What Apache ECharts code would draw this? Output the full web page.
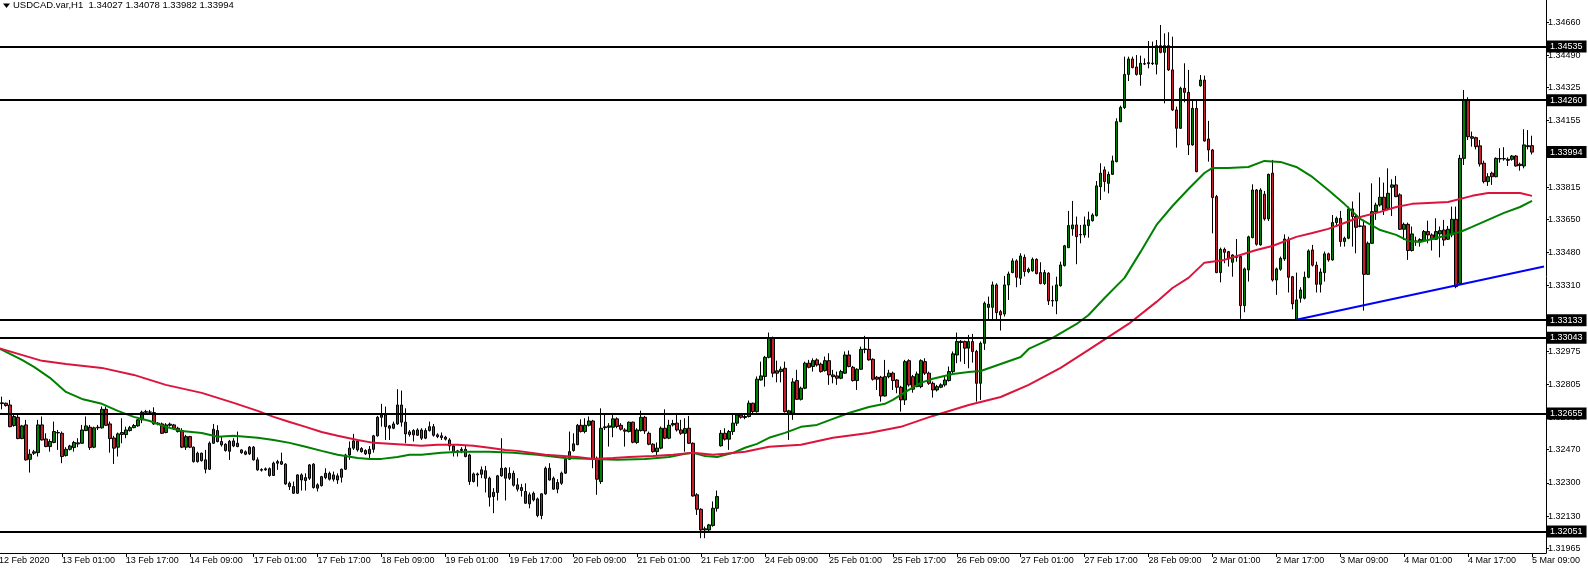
<!DOCTYPE html>
<html>
<head>
<meta charset="utf-8">
<script src="https://cdn.jsdelivr.net/npm/echarts@6/dist/echarts.min.js"></script>
<style>
html,body{margin:0;padding:0;background:#fff;}
#chart{width:1588px;height:570px;}
</style>
</head>
<body>
<div id="chart"></div>
<script>
// Symbol header
const symbolName = 'USDCAD.var,H1';

// Time-axis labels, one every 16 hourly bars, starting at bar 0 (12 Feb 09:00)
const labelStep = 16;
const timeLabels = ['12 Feb 2020','13 Feb 01:00','13 Feb 17:00','14 Feb 09:00','17 Feb 01:00','17 Feb 17:00',
  '18 Feb 09:00','19 Feb 01:00','19 Feb 17:00','20 Feb 09:00','21 Feb 01:00','21 Feb 17:00','24 Feb 09:00',
  '25 Feb 01:00','25 Feb 17:00','26 Feb 09:00','27 Feb 01:00','27 Feb 17:00','28 Feb 09:00','2 Mar 01:00',
  '2 Mar 17:00','3 Mar 09:00','4 Mar 01:00','4 Mar 17:00','5 Mar 09:00'];

// Price-axis tick labels
const priceTicks = [1.31965,1.32130,1.32300,1.32470,1.32635,1.32805,1.32975,1.33310,1.33480,1.33650,1.33815,1.34155,1.34325,1.34490,1.34660];

// Horizontal levels and last price
const levels = [1.34535,1.34260,1.33133,1.33043,1.32655,1.32051];
const lastPrice = 1.33994;

// Hourly bars [open, close, low, high], from 12 Feb 10:00 (bar 1) to 5 Mar 09:00 (bar 384)
const ohlc = [
[1.32706,1.32710,1.32677,1.32742],[1.32708,1.32696,1.32691,1.32711],[1.32699,1.32588,1.32585,1.32725],[1.32594,1.32640,1.32588,1.32648],
[1.32636,1.32527,1.32524,1.32657],[1.32527,1.32592,1.32524,1.32597],[1.32597,1.32418,1.32414,1.32623],[1.32421,1.32447,1.32353,1.32472],
[1.32452,1.32459,1.32443,1.32469],[1.32455,1.32597,1.32435,1.32623],[1.32597,1.32520,1.32517,1.32640],[1.32525,1.32486,1.32483,1.32554],
[1.32486,1.32512,1.32460,1.32524],[1.32507,1.32563,1.32503,1.32614],[1.32558,1.32556,1.32469,1.32571],[1.32554,1.32435,1.32401,1.32563],
[1.32440,1.32472,1.32435,1.32483],[1.32472,1.32489,1.32466,1.32495],[1.32481,1.32507,1.32460,1.32515],[1.32500,1.32505,1.32483,1.32529],
[1.32503,1.32571,1.32500,1.32597],[1.32568,1.32592,1.32565,1.32640],[1.32585,1.32481,1.32469,1.32597],[1.32483,1.32582,1.32478,1.32588],
[1.32582,1.32585,1.32571,1.32597],[1.32582,1.32677,1.32578,1.32691],[1.32677,1.32595,1.32592,1.32691],[1.32602,1.32527,1.32455,1.32614],
[1.32530,1.32478,1.32397,1.32541],[1.32483,1.32551,1.32435,1.32558],[1.32548,1.32558,1.32503,1.32631],[1.32548,1.32571,1.32529,1.32588],
[1.32568,1.32583,1.32563,1.32592],[1.32583,1.32594,1.32580,1.32602],[1.32592,1.32623,1.32588,1.32626],[1.32623,1.32662,1.32606,1.32670],
[1.32662,1.32665,1.32648,1.32674],[1.32663,1.32662,1.32653,1.32674],[1.32660,1.32602,1.32597,1.32687],[1.32602,1.32606,1.32595,1.32611],
[1.32602,1.32554,1.32551,1.32609],[1.32558,1.32597,1.32554,1.32606],[1.32595,1.32601,1.32588,1.32609],[1.32597,1.32580,1.32571,1.32602],
[1.32580,1.32563,1.32558,1.32588],[1.32568,1.32483,1.32478,1.32580],[1.32483,1.32537,1.32469,1.32546],[1.32537,1.32483,1.32478,1.32541],
[1.32483,1.32409,1.32404,1.32486],[1.32409,1.32452,1.32404,1.32460],[1.32452,1.32414,1.32409,1.32455],[1.32418,1.32370,1.32349,1.32469],
[1.32370,1.32503,1.32367,1.32512],[1.32503,1.32575,1.32500,1.32602],[1.32568,1.32512,1.32507,1.32595],[1.32512,1.32495,1.32486,1.32537],
[1.32498,1.32466,1.32460,1.32503],[1.32462,1.32513,1.32418,1.32520],[1.32515,1.32489,1.32483,1.32529],[1.32486,1.32503,1.32483,1.32563],
[1.32469,1.32455,1.32449,1.32472],[1.32459,1.32447,1.32442,1.32466],[1.32449,1.32483,1.32443,1.32489],[1.32483,1.32418,1.32414,1.32489],
[1.32418,1.32367,1.32362,1.32431],[1.32368,1.32365,1.32358,1.32375],[1.32367,1.32372,1.32362,1.32379],[1.32373,1.32338,1.32332,1.32379],
[1.32338,1.32401,1.32336,1.32409],[1.32401,1.32409,1.32367,1.32418],[1.32409,1.32396,1.32392,1.32455],[1.32396,1.32295,1.32290,1.32401],
[1.32298,1.32281,1.32264,1.32307],[1.32281,1.32247,1.32244,1.32307],[1.32247,1.32341,1.32244,1.32344],[1.32341,1.32315,1.32261,1.32349],
[1.32327,1.32312,1.32261,1.32349],[1.32324,1.32392,1.32315,1.32397],[1.32396,1.32276,1.32271,1.32401],[1.32273,1.32290,1.32256,1.32298],
[1.32286,1.32332,1.32281,1.32336],[1.32327,1.32349,1.32319,1.32375],[1.32349,1.32319,1.32312,1.32358],[1.32319,1.32341,1.32307,1.32358],
[1.32315,1.32336,1.32295,1.32349],[1.32329,1.32370,1.32302,1.32373],[1.32370,1.32443,1.32367,1.32449],[1.32443,1.32478,1.32418,1.32512],
[1.32478,1.32515,1.32469,1.32551],[1.32513,1.32469,1.32460,1.32520],[1.32476,1.32460,1.32455,1.32483],[1.32466,1.32449,1.32443,1.32472],
[1.32449,1.32472,1.32421,1.32489],[1.32472,1.32541,1.32455,1.32546],[1.32541,1.32636,1.32537,1.32643],[1.32636,1.32648,1.32588,1.32705],
[1.32648,1.32588,1.32520,1.32691],[1.32592,1.32580,1.32520,1.32597],[1.32580,1.32602,1.32575,1.32614],[1.32602,1.32699,1.32597,1.32780],
[1.32699,1.32611,1.32588,1.32773],[1.32611,1.32551,1.32503,1.32682],[1.32561,1.32548,1.32537,1.32571],[1.32546,1.32568,1.32512,1.32575],
[1.32544,1.32571,1.32541,1.32580],[1.32571,1.32529,1.32520,1.32580],[1.32529,1.32568,1.32524,1.32580],[1.32568,1.32588,1.32563,1.32614],
[1.32588,1.32544,1.32537,1.32602],[1.32546,1.32537,1.32529,1.32554],[1.32541,1.32532,1.32520,1.32558],[1.32534,1.32524,1.32517,1.32541],
[1.32520,1.32489,1.32466,1.32529],[1.32489,1.32460,1.32435,1.32495],[1.32460,1.32464,1.32435,1.32469],[1.32466,1.32472,1.32452,1.32483],
[1.32472,1.32435,1.32431,1.32489],[1.32443,1.32307,1.32290,1.32449],[1.32307,1.32346,1.32302,1.32353],[1.32346,1.32341,1.32281,1.32353],
[1.32344,1.32367,1.32324,1.32384],[1.32362,1.32324,1.32251,1.32387],[1.32324,1.32227,1.32179,1.32332],[1.32230,1.32252,1.32145,1.32273],
[1.32251,1.32336,1.32210,1.32341],[1.32336,1.32375,1.32332,1.32529],[1.32375,1.32324,1.32210,1.32380],[1.32324,1.32349,1.32315,1.32380],
[1.32349,1.32288,1.32281,1.32363],[1.32290,1.32268,1.32256,1.32324],[1.32276,1.32261,1.32230,1.32295],[1.32256,1.32196,1.32193,1.32298],
[1.32193,1.32239,1.32170,1.32251],[1.32213,1.32247,1.32205,1.32256],[1.32218,1.32133,1.32124,1.32225],[1.32133,1.32244,1.32114,1.32247],
[1.32244,1.32375,1.32239,1.32384],[1.32375,1.32315,1.32312,1.32401],[1.32324,1.32268,1.32264,1.32333],[1.32268,1.32302,1.32247,1.32319],
[1.32298,1.32350,1.32290,1.32358],[1.32350,1.32421,1.32346,1.32435],[1.32421,1.32460,1.32418,1.32563],[1.32466,1.32500,1.32460,1.32554],
[1.32496,1.32595,1.32493,1.32602],[1.32595,1.32563,1.32558,1.32626],[1.32563,1.32595,1.32554,1.32631],[1.32595,1.32617,1.32589,1.32640],
[1.32617,1.32421,1.32375,1.32623],[1.32426,1.32319,1.32239,1.32435],[1.32307,1.32580,1.32295,1.32682],[1.32583,1.32587,1.32571,1.32648],
[1.32585,1.32592,1.32486,1.32606],[1.32585,1.32628,1.32534,1.32648],[1.32628,1.32589,1.32580,1.32636],[1.32595,1.32575,1.32568,1.32606],
[1.32571,1.32565,1.32486,1.32580],[1.32563,1.32611,1.32558,1.32614],[1.32611,1.32508,1.32503,1.32614],[1.32507,1.32571,1.32500,1.32580],
[1.32568,1.32636,1.32563,1.32670],[1.32636,1.32566,1.32551,1.32643],[1.32554,1.32498,1.32493,1.32563],[1.32498,1.32460,1.32455,1.32503],
[1.32460,1.32478,1.32438,1.32507],[1.32478,1.32580,1.32472,1.32589],[1.32580,1.32529,1.32524,1.32677],[1.32529,1.32595,1.32524,1.32623],
[1.32597,1.32604,1.32589,1.32623],[1.32606,1.32571,1.32563,1.32648],[1.32571,1.32554,1.32546,1.32623],[1.32554,1.32578,1.32460,1.32631],
[1.32580,1.32503,1.32500,1.32643],[1.32503,1.32233,1.32230,1.32507],[1.32239,1.32165,1.32136,1.32247],[1.32165,1.32059,1.32017,1.32170],
[1.32059,1.32065,1.32017,1.32076],[1.32059,1.32085,1.32051,1.32090],[1.32082,1.32170,1.32076,1.32205],[1.32170,1.32230,1.32153,1.32261],
[1.32490,1.32554,1.32486,1.32571],[1.32554,1.32524,1.32517,1.32580],[1.32524,1.32563,1.32469,1.32571],[1.32563,1.32606,1.32546,1.32657],
[1.32606,1.32648,1.32592,1.32657],[1.32648,1.32636,1.32629,1.32653],[1.32635,1.32640,1.32626,1.32648],[1.32640,1.32708,1.32635,1.32722],
[1.32708,1.32665,1.32657,1.32711],[1.32665,1.32831,1.32660,1.32845],[1.32827,1.32848,1.32824,1.32921],[1.32845,1.32943,1.32793,1.32950],
[1.32943,1.33041,1.32938,1.33070],[1.33041,1.32862,1.32841,1.33049],[1.32874,1.32862,1.32815,1.32926],[1.32870,1.32882,1.32815,1.32896],
[1.32887,1.32665,1.32660,1.32921],[1.32657,1.32669,1.32520,1.32674],[1.32657,1.32817,1.32623,1.32836],[1.32824,1.32728,1.32725,1.32879],
[1.32728,1.32785,1.32722,1.32793],[1.32785,1.32913,1.32780,1.32921],[1.32913,1.32892,1.32887,1.32930],[1.32896,1.32926,1.32870,1.32938],
[1.32930,1.32904,1.32896,1.32938],[1.32908,1.32870,1.32865,1.32916],[1.32875,1.32926,1.32870,1.32947],[1.32926,1.32853,1.32802,1.32964],
[1.32853,1.32844,1.32810,1.32879],[1.32848,1.32836,1.32802,1.32870],[1.32836,1.32870,1.32831,1.32879],[1.32862,1.32955,1.32858,1.32973],
[1.32955,1.32896,1.32892,1.32978],[1.32892,1.32824,1.32819,1.32899],[1.32824,1.32882,1.32776,1.32887],[1.32882,1.32984,1.32879,1.32998],
[1.32983,1.32986,1.32964,1.33053],[1.32984,1.32930,1.32926,1.33041],[1.32933,1.32831,1.32824,1.32938],[1.32841,1.32831,1.32776,1.32848],
[1.32841,1.32745,1.32716,1.32848],[1.32745,1.32844,1.32742,1.32930],[1.32844,1.32862,1.32836,1.32879],[1.32862,1.32824,1.32776,1.32870],
[1.32827,1.32790,1.32759,1.32831],[1.32790,1.32725,1.32665,1.32797],[1.32725,1.32921,1.32699,1.32930],[1.32926,1.32802,1.32793,1.32933],
[1.32844,1.32780,1.32762,1.32853],[1.32793,1.32858,1.32790,1.32870],[1.32793,1.32926,1.32785,1.32933],[1.32921,1.32862,1.32853,1.32938],
[1.32862,1.32810,1.32802,1.32870],[1.32810,1.32776,1.32737,1.32819],[1.32776,1.32793,1.32768,1.32802],[1.32790,1.32802,1.32785,1.32810],
[1.32802,1.32827,1.32793,1.32848],[1.32824,1.32870,1.32819,1.32896],[1.32870,1.32961,1.32862,1.32973],[1.32955,1.33024,1.32913,1.33070],
[1.33019,1.33025,1.32921,1.33032],[1.33024,1.32990,1.32909,1.33029],[1.32990,1.33024,1.32887,1.33058],[1.33024,1.32973,1.32916,1.33063],
[1.32973,1.32810,1.32716,1.32981],[1.32810,1.33015,1.32725,1.33024],[1.33015,1.33220,1.32981,1.33229],[1.33199,1.33215,1.33138,1.33254],
[1.33199,1.33314,1.33138,1.33331],[1.33314,1.33172,1.33135,1.33322],[1.33177,1.33160,1.33080,1.33186],[1.33165,1.33314,1.33152,1.33360],
[1.33314,1.33370,1.33237,1.33382],[1.33377,1.33437,1.33374,1.33450],[1.33437,1.33353,1.33302,1.33445],[1.33348,1.33462,1.33314,1.33476],
[1.33455,1.33382,1.33357,1.33470],[1.33382,1.33394,1.33374,1.33403],[1.33386,1.33445,1.33382,1.33454],[1.33445,1.33372,1.33368,1.33450],
[1.33377,1.33321,1.33317,1.33430],[1.33321,1.33377,1.33314,1.33391],[1.33374,1.33232,1.33211,1.33379],[1.33232,1.33234,1.33203,1.33310],
[1.33232,1.33314,1.33164,1.33356],[1.33310,1.33416,1.33305,1.33433],[1.33413,1.33514,1.33408,1.33519],[1.33505,1.33618,1.33502,1.33693],
[1.33601,1.33621,1.33566,1.33744],[1.33621,1.33561,1.33420,1.33664],[1.33570,1.33572,1.33527,1.33621],[1.33570,1.33621,1.33556,1.33664],
[1.33618,1.33647,1.33556,1.33689],[1.33643,1.33672,1.33638,1.33681],[1.33669,1.33821,1.33664,1.33846],[1.33817,1.33886,1.33749,1.33937],
[1.33903,1.33843,1.33792,1.33920],[1.33834,1.33880,1.33783,1.33894],[1.33880,1.33949,1.33877,1.33976],[1.33945,1.34150,1.33942,1.34167],
[1.34150,1.34223,1.34147,1.34232],[1.34222,1.34392,1.34215,1.34483],[1.34392,1.34471,1.34358,1.34483],[1.34471,1.34427,1.34423,1.34483],
[1.34430,1.34392,1.34386,1.34491],[1.34392,1.34449,1.34334,1.34488],[1.34445,1.34447,1.34440,1.34474],[1.34447,1.34452,1.34423,1.34563],
[1.34450,1.34447,1.34440,1.34560],[1.34444,1.34539,1.34392,1.34568],[1.34539,1.34505,1.34500,1.34645],[1.34505,1.34539,1.34244,1.34602],
[1.34539,1.34415,1.34410,1.34608],[1.34415,1.34210,1.34205,1.34585],[1.34210,1.34116,1.34017,1.34227],[1.34116,1.34321,1.34113,1.34329],
[1.34321,1.34300,1.34249,1.34449],[1.34300,1.34031,1.33979,1.34415],[1.34031,1.34218,1.34027,1.34266],[1.34218,1.33894,1.33891,1.34261],
[1.34334,1.34363,1.34329,1.34389],[1.34363,1.34051,1.34048,1.34386],[1.34061,1.34005,1.33945,1.34154],[1.34005,1.33761,1.33578,1.34010],
[1.33766,1.33377,1.33374,1.33775],[1.33377,1.33496,1.33327,1.33505],[1.33496,1.33481,1.33425,1.33505],[1.33484,1.33450,1.33408,1.33488],
[1.33430,1.33467,1.33356,1.33471],[1.33455,1.33457,1.33433,1.33549],[1.33459,1.33208,1.33140,1.33464],[1.33208,1.33396,1.33174,1.33403],
[1.33391,1.33560,1.33331,1.33566],[1.33556,1.33800,1.33553,1.33829],[1.33800,1.33522,1.33515,1.33805],[1.33519,1.33800,1.33515,1.33809],
[1.33778,1.33652,1.33643,1.33795],[1.33652,1.33880,1.33641,1.33884],[1.33886,1.33339,1.33331,1.33954],[1.33339,1.33396,1.33263,1.33403],
[1.33394,1.33450,1.33386,1.33459],[1.33447,1.33549,1.33437,1.33573],[1.33548,1.33353,1.33275,1.33561],[1.33356,1.33217,1.33189,1.33360],
[1.33138,1.33237,1.33135,1.33377],[1.33246,1.33288,1.33223,1.33302],[1.33246,1.33353,1.33240,1.33382],[1.33353,1.33488,1.33348,1.33496],
[1.33493,1.33415,1.33408,1.33519],[1.33415,1.33317,1.33275,1.33433],[1.33317,1.33380,1.33275,1.33399],[1.33377,1.33473,1.33331,1.33485],
[1.33473,1.33442,1.33433,1.33479],[1.33442,1.33633,1.33438,1.33672],[1.33633,1.33655,1.33613,1.33664],[1.33655,1.33536,1.33510,1.33693],
[1.33536,1.33553,1.33510,1.33561],[1.33553,1.33703,1.33548,1.33715],[1.33703,1.33664,1.33510,1.33741],[1.33664,1.33609,1.33476,1.33672],
[1.33616,1.33614,1.33609,1.33787],[1.33616,1.33368,1.33182,1.33647],[1.33368,1.33527,1.33365,1.33536],[1.33527,1.33689,1.33524,1.33834],
[1.33689,1.33723,1.33647,1.33735],[1.33723,1.33763,1.33715,1.33865],[1.33763,1.33698,1.33672,1.33838],[1.33706,1.33783,1.33698,1.33911],
[1.33814,1.33826,1.33667,1.33855],[1.33826,1.33766,1.33763,1.33872],[1.33775,1.33599,1.33595,1.33783],[1.33599,1.33624,1.33544,1.33633],
[1.33624,1.33490,1.33442,1.33633],[1.33490,1.33575,1.33485,1.33613],[1.33536,1.33539,1.33514,1.33561],[1.33537,1.33546,1.33510,1.33553],
[1.33541,1.33587,1.33536,1.33595],[1.33587,1.33570,1.33527,1.33643],[1.33570,1.33548,1.33490,1.33578],[1.33548,1.33587,1.33544,1.33655],
[1.33575,1.33592,1.33455,1.33613],[1.33595,1.33544,1.33514,1.33647],[1.33548,1.33599,1.33544,1.33616],[1.33570,1.33650,1.33558,1.33715],
[1.33650,1.33305,1.33297,1.33715],[1.33322,1.33962,1.33314,1.33980],[1.33962,1.34261,1.33928,1.34312],[1.34261,1.34073,1.34056,1.34275],
[1.34073,1.34065,1.34022,1.34099],[1.34068,1.34022,1.34008,1.34073],[1.34026,1.33933,1.33920,1.34056],[1.33937,1.33843,1.33834,1.33950],
[1.33843,1.33868,1.33821,1.33886],[1.33886,1.33868,1.33826,1.33894],[1.33868,1.33962,1.33865,1.33967],[1.33959,1.33961,1.33940,1.34014],
[1.33961,1.33959,1.33950,1.34019],[1.33957,1.33952,1.33923,1.33967],[1.33957,1.33974,1.33950,1.33979],[1.33974,1.33923,1.33920,1.33979],
[1.33925,1.33932,1.33899,1.33940],[1.33923,1.34031,1.33911,1.34111],[1.34027,1.34022,1.34008,1.34107],[1.34027,1.33994,1.33982,1.34078]
];

// Green moving average, read at sample bars [bar index, price]
const greenMA = [[0,1.32991],[6,1.32930],[9,1.32894],[13,1.32838],[17,1.32766],[21,1.32730],[26,1.32705],[30,1.32669],
 [34,1.32638],[38,1.32617],[42,1.32587],[46,1.32566],[51,1.32556],[55,1.32536],[59,1.32541],[65,1.32531],[69,1.32520],
 [73,1.32505],[77,1.32485],[81,1.32464],[85,1.32444],[90,1.32428],[93,1.32423],[96,1.32423],[100,1.32433],[103,1.32444],
 [106,1.32444],[111,1.32454],[116,1.32459],[123,1.32459],[129,1.32454],[135,1.32444],[142,1.32428],[149,1.32423],
 [155,1.32418],[162,1.32423],[168,1.32433],[172,1.32449],[174,1.32454],[177,1.32438],[180,1.32433],[184,1.32454],
 [187,1.32480],[190,1.32500],[193,1.32531],[197,1.32556],[201,1.32587],[205,1.32597],[209,1.32628],[213,1.32658],
 [218,1.32689],[222,1.32705],[224,1.32725],[228,1.32776],[231,1.32812],[234,1.32833],[239,1.32858],[243,1.32868],
 [246,1.32873],[251,1.32909],[256,1.32945],[258,1.32986],[264,1.33043],[270,1.33114],[273,1.33160],[277,1.33247],
 [282,1.33350],[286,1.33483],[290,1.33621],[294,1.33718],[298,1.33805],[302,1.33887],[304,1.33913],[308,1.33913],
 [313,1.33918],[317,1.33949],[321,1.33944],[325,1.33918],[329,1.33867],[333,1.33800],[337,1.33729],[341,1.33652],
 [346,1.33595],[350,1.33570],[353,1.33539],[356,1.33534],[360,1.33554],[366,1.33585],[369,1.33611],[373,1.33647],
 [377,1.33683],[381,1.33713],[384,1.33744]];

// Red moving average, read at sample bars [bar index, price]
const redMA = [[0,1.32991],[11,1.32925],[17,1.32909],[26,1.32889],[34,1.32853],[42,1.32802],[51,1.32761],[59,1.32710],
 [65,1.32669],[69,1.32638],[73,1.32612],[77,1.32587],[81,1.32561],[85,1.32541],[90,1.32520],[94,1.32505],[98,1.32500],
 [102,1.32495],[106,1.32490],[110,1.32495],[115,1.32495],[119,1.32490],[123,1.32480],[127,1.32469],[130,1.32464],
 [137,1.32444],[145,1.32433],[149,1.32423],[154,1.32428],[158,1.32433],[164,1.32438],[169,1.32444],[174,1.32454],
 [179,1.32444],[182,1.32449],[187,1.32459],[193,1.32485],[201,1.32495],[209,1.32531],[218,1.32556],[226,1.32587],
 [234,1.32643],[243,1.32699],[251,1.32740],[258,1.32802],[266,1.32889],[273,1.32981],[278,1.33048],[283,1.33114],
 [290,1.33227],[294,1.33298],[298,1.33350],[302,1.33428],[307,1.33442],[311,1.33467],[315,1.33493],[319,1.33513],
 [325,1.33560],[329,1.33580],[333,1.33601],[337,1.33631],[341,1.33662],[346,1.33688],[350,1.33713],[354,1.33729],
 [358,1.33734],[363,1.33739],[369,1.33770],[373,1.33785],[377,1.33785],[381,1.33785],[384,1.33770]];

// Blue trend line endpoints [bar index, price]
const trendLine = [[325,1.33135],[387,1.33408]];

// ---- build chart ----
// Category slot c holds bar c+1 (bar 0 sits just left of the visible area).
const SHIFT = -1;
const totalSlots = 387; // slots 0..386 -> bars 1..387 (bars 385..387 are the empty right margin)
const categories = Array.from({length: totalSlots}, (_, i) => i);
const candleData = Array.from({length: totalSlots}, (_, c) => {
  const b = c - SHIFT;
  return (b >= 1 && b <= ohlc.length) ? ohlc[b - 1] : '-';
});
const shiftPts = pts => pts.map(([b, v]) => [b + SHIFT, v]);

const last = ohlc[ohlc.length - 1];
const headerText = symbolName + '  ' + [last[0], last[3], last[2], last[1]].map(v => v.toFixed(5)).join(' ');

const FONT = 'Liberation Sans';
const isLabelSlot = (c) => (c - SHIFT) % labelStep === 0;

const boxLabel = {
  show: true, position: 'end', distance: 1,
  formatter: p => Number(p.value).toFixed(5),
  color: '#fff', backgroundColor: '#000',
  fontFamily: FONT, fontSize: 9, lineHeight: 9, padding: [2, 4, 1, 3]
};

const chart = echarts.init(document.getElementById('chart'), null, {renderer: 'canvas'});
chart.setOption({
  animation: false,
  backgroundColor: '#fff',
  textStyle: {fontFamily: FONT},
  grid: {left: 0, right: 42, top: 0, bottom: 17},
  xAxis: {
    type: 'category', data: categories, boundaryGap: true,
    axisLine: {lineStyle: {color: '#000', width: 1}},
    axisTick: {show: true, alignWithLabel: true, interval: isLabelSlot, length: 4, lineStyle: {color: '#000'}},
    axisLabel: {
      interval: isLabelSlot,
      formatter: (v, c) => timeLabels[Math.round((c - SHIFT) / labelStep)] || '',
      align: 'left', color: '#000', fontFamily: FONT, fontSize: 9, margin: 3
    },
    splitLine: {show: false}
  },
  yAxis: {
    type: 'value', position: 'right', min: 1.31941, max: 1.34773,
    axisLine: {show: true, lineStyle: {color: '#000', width: 1}},
    axisTick: {show: true, length: 3, customValues: priceTicks, lineStyle: {color: '#000'}},
    axisLabel: {
      customValues: priceTicks, formatter: v => v.toFixed(5), color: '#000', fontFamily: FONT, fontSize: 9, margin: 2,
      verticalAlignMinLabel: 'middle', verticalAlignMaxLabel: 'middle', hideOverlap: false
    },
    splitLine: {show: false}
  },
  graphic: [
    {type: 'polygon', shape: {points: [[3, 3.5], [10, 3.5], [6.5, 8]]}, style: {fill: '#000'}, z: 100},
    {type: 'text', x: 13, y: 0.5, style: {text: headerText, font: '9.5px "' + FONT + '"', fill: '#000'}, z: 100},
    // first time label (bar 0 lies just left of the plot)
    {type: 'text', x: -1, y: 556, style: {text: timeLabels[0], font: '9px "' + FONT + '"', fill: '#000'}, z: 100}
  ],
  series: [
    {
      type: 'candlestick', data: candleData, barWidth: 3, z: 2,
      itemStyle: {color: '#008000', color0: '#C41E2A', borderColor: '#000', borderColor0: '#000', borderWidth: 1}
    },
    {
      type: 'line', data: shiftPts(greenMA), showSymbol: false, symbol: 'none', z: 3,
      lineStyle: {color: '#008000', width: 2}
    },
    {
      type: 'line', data: shiftPts(redMA), showSymbol: false, symbol: 'none', z: 3,
      lineStyle: {color: '#DC143C', width: 2}
    },
    {
      type: 'line', data: shiftPts(trendLine), showSymbol: false, symbol: 'none', z: 4,
      lineStyle: {color: '#0000FF', width: 2},
      markLine: {
        silent: true, symbol: ['none', 'none'], animation: false, precision: 5,
        lineStyle: {color: '#000', width: 2, type: 'solid'},
        label: boxLabel,
        data: levels.map(v => ({yAxis: v}))
          .concat([{yAxis: lastPrice, lineStyle: {color: 'rgba(0,0,0,0)', width: 1}}])
      }
    }
  ]
});
</script>
</body>
</html>
